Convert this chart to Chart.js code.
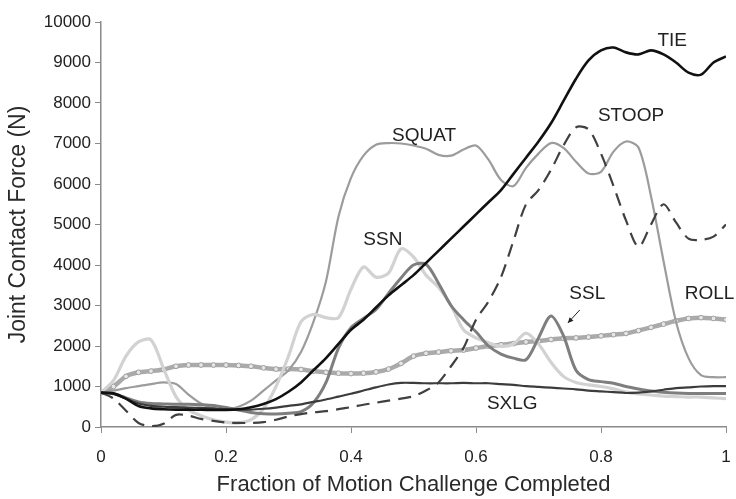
<!DOCTYPE html>
<html>
<head>
<meta charset="utf-8">
<style>
  html, body { margin: 0; padding: 0; background: #fff; }
  #wrap { width: 736px; height: 499px; }
</style>
<script src="https://cdn.jsdelivr.net/npm/chart.js@4.4.1/dist/chart.umd.min.js"></script>
</head>
<body>
<div id="wrap"><canvas id="chart" width="736" height="499"></canvas></div>
<script>
// fraction of motion challenge completed (sample points)
const xs = [0, 0.02, 0.04, 0.06, 0.08, 0.1, 0.12, 0.14, 0.16, 0.18,
  0.2, 0.22, 0.24, 0.26, 0.28, 0.3, 0.32, 0.34, 0.36, 0.38,
  0.4, 0.42, 0.44, 0.46, 0.48, 0.5, 0.52, 0.54, 0.56, 0.58,
  0.6, 0.62, 0.64, 0.66, 0.68, 0.7, 0.72, 0.74, 0.76, 0.78,
  0.8, 0.82, 0.84, 0.86, 0.88, 0.9, 0.92, 0.94, 0.96, 0.98, 1];

// joint contact force (N)
const tie = [850, 830, 700, 520, 460, 440, 430, 430, 425, 420,
  420, 440, 490, 570, 690, 870, 1100, 1400, 1700, 2050,
  2400, 2650, 2950, 3250, 3500, 3750, 4050, 4350, 4650, 4950,
  5250, 5550, 5850, 6250, 6650, 7050, 7500, 8050, 8600, 9050,
  9300, 9370, 9250, 9200, 9300, 9200, 9000, 8750, 8700, 9000, 9150];
const squat = [850, 900, 960, 1010, 1060, 1100, 1060, 800, 580, 460,
  430, 500, 650, 900, 1150, 1400, 1850, 2600, 3600, 5200,
  6150, 6700, 6970, 7010, 7000, 6950, 6870, 6720, 6700, 6850,
  6950, 6600, 6100, 5950, 6400, 6750, 7010, 6890, 6550, 6260,
  6300, 6800, 7050, 6900, 5700, 4100, 2600, 1700, 1280, 1230, 1230];
const stoop = [850, 700, 400, 100, 20, 80, 300, 280, 200, 150,
  110, 100, 100, 120, 180, 260, 320, 360, 390, 440,
  490, 550, 600, 650, 700, 760, 900, 1100, 1500, 1950,
  2650, 3100, 3700, 4600, 5500, 5850, 6350, 6950, 7400, 7350,
  6750, 5950, 5100, 4450, 5000, 5500, 5050, 4650, 4620, 4700, 5000];
const ssn = [850, 1150, 1750, 2100, 2150, 1450, 750, 420, 280, 180,
  120, 100, 180, 450, 1000, 1750, 2600, 2780, 2700, 2700,
  3400, 3950, 3700, 3800, 4400, 4200, 3750, 3450, 3000, 2400,
  2200, 2080, 1990, 2050, 2320, 2050, 1600, 1250, 1100, 1040,
  1000, 940, 860, 820, 790, 760, 750, 740, 740, 720, 700];
const ssl = [850, 820, 720, 620, 580, 570, 560, 560, 550, 530,
  480, 420, 360, 330, 320, 340, 380, 600, 1100, 1950,
  2450, 2680, 2900, 3300, 3680, 4000, 4020, 3550, 3000, 2650,
  2350, 2000, 1800, 1700, 1660, 2200, 2740, 2250, 1400, 1170,
  1120, 1080, 1000, 940, 890, 860, 840, 830, 830, 830, 830];
const roll = [850, 1000, 1250, 1350, 1380, 1420, 1500, 1530, 1530, 1530,
  1530, 1520, 1500, 1460, 1430, 1430, 1420, 1380, 1350, 1330,
  1320, 1330, 1360, 1430, 1570, 1750, 1820, 1850, 1880, 1900,
  1950, 2000, 2030, 2060, 2100, 2120, 2160, 2190, 2200, 2220,
  2250, 2280, 2310, 2380, 2460, 2540, 2620, 2680, 2700, 2680, 2650];
const sxlg = [850, 820, 700, 580, 520, 500, 490, 480, 470, 460,
  440, 430, 430, 450, 480, 520, 560, 620, 680, 750,
  820, 900, 980, 1050, 1090, 1090, 1080, 1080, 1080, 1090,
  1080, 1080, 1060, 1040, 1010, 990, 970, 950, 930, 900,
  880, 860, 840, 850, 880, 920, 960, 980, 1000, 1010, 1010];

// series names as written on the chart, with where each name sits (data units)
const seriesLabels = [
  { text: 'TIE',   x: 0.914, y: 9540, align: 'center' },
  { text: 'STOOP', x: 0.848, y: 7690, align: 'center' },
  { text: 'SQUAT', x: 0.517, y: 7190, align: 'center' },
  { text: 'SSN',   x: 0.451, y: 4620, align: 'center' },
  { text: 'SSL',   x: 0.778, y: 3290, align: 'center' },
  { text: 'ROLL',  x: 0.934, y: 3290, align: 'left' },
  { text: 'SXLG',  x: 0.658, y: 570,  align: 'center' }
];
const sslArrow = { from: [0.766, 2890], to: [0.747, 2570] };

const FONT = '"Liberation Sans", Arial, Helvetica, sans-serif';

const pts = (arr) => xs.map((x, i) => ({ x, y: arr[i] }));

const labelPlugin = {
  id: 'seriesLabels',
  afterDatasetsDraw(chart) {
    const { ctx, scales: { x, y } } = chart;
    ctx.save();
    ctx.fillStyle = '#222';
    ctx.font = '19px ' + FONT;
    ctx.textBaseline = 'middle';
    seriesLabels.forEach((l) => {
      ctx.textAlign = l.align;
      ctx.fillText(l.text, x.getPixelForValue(l.x), y.getPixelForValue(l.y));
    });
    // little arrow pointing at the SSL peak
    const x0 = x.getPixelForValue(sslArrow.from[0]), y0 = y.getPixelForValue(sslArrow.from[1]);
    const x1 = x.getPixelForValue(sslArrow.to[0]),   y1 = y.getPixelForValue(sslArrow.to[1]);
    ctx.strokeStyle = '#222';
    ctx.lineWidth = 1;
    ctx.beginPath();
    ctx.moveTo(x0, y0);
    ctx.lineTo(x1, y1);
    ctx.stroke();
    const ang = Math.atan2(y1 - y0, x1 - x0);
    ctx.beginPath();
    ctx.moveTo(x1, y1);
    ctx.lineTo(x1 - 6 * Math.cos(ang - 0.45), y1 - 6 * Math.sin(ang - 0.45));
    ctx.lineTo(x1 - 6 * Math.cos(ang + 0.45), y1 - 6 * Math.sin(ang + 0.45));
    ctx.closePath();
    ctx.fillStyle = '#222';
    ctx.fill();
    ctx.restore();
  }
};

const line = (label, arr, color, width, extra = {}) => Object.assign({
  label,
  data: pts(arr),
  borderColor: color,
  borderWidth: width,
  pointRadius: 0,
  tension: 0.3,
  fill: false
}, extra);

new Chart(document.getElementById('chart'), {
  type: 'line',
  data: {
    datasets: [
      line('TIE', tie, '#111111', 2.6),
      line('SXLG', sxlg, '#3c3c3c', 2.2),
      line('STOOP', stoop, '#404040', 2.2, { borderDash: [13, 8] }),
      line('SSL', ssl, '#7e7e7e', 3),
      line('SSN', ssn, '#d2d2d2', 3.2),
      line('SQUAT', squat, '#9c9c9c', 2.2),
      line('ROLL', roll, '#aaaaaa', 4.5, {
        pointRadius: 2.4, pointBackgroundColor: '#e6e6e6',
        pointBorderColor: '#a0a0a0', pointBorderWidth: 1
      })
    ]
  },
  options: {
    responsive: false,
    animation: false,
    layout: { padding: { left: 0, right: 10, top: 22, bottom: 0 } },
    plugins: { legend: { display: false }, tooltip: { enabled: false } },
    scales: {
      x: {
        type: 'linear', min: 0, max: 1,
        afterFit: (s) => { s.height = 72; s.paddingLeft = 0; s.paddingRight = 0; },
        ticks: {
          stepSize: 0.2, color: '#222', padding: 14, maxRotation: 0,
          font: { family: FONT, size: 17 },
          callback: (v) => (Math.round(v * 10) / 10).toString()
        },
        grid: { drawOnChartArea: false, drawTicks: true, tickLength: 6, color: '#8a8a8a' },
        border: { color: '#8a8a8a', width: 1.5 },
        title: {
          display: true, text: 'Fraction of Motion Challenge Completed',
          color: '#2a2a2a', font: { family: FONT, size: 22 }, padding: { top: 0, bottom: 1 }
        }
      },
      y: {
        min: 0, max: 10000,
        afterFit: (s) => { s.width = 101; s.paddingTop = 0; s.paddingBottom = 0; },
        ticks: {
          stepSize: 1000, color: '#222', padding: 4,
          font: { family: FONT, size: 17 },
          callback: (v) => String(v)
        },
        grid: { drawOnChartArea: false, drawTicks: true, tickLength: 6, color: '#8a8a8a' },
        border: { color: '#8a8a8a', width: 1.5 },
        title: {
          display: true, text: 'Joint Contact Force (N)',
          color: '#2a2a2a', font: { family: FONT, size: 23 }, padding: { top: 5, bottom: 0 }
        }
      }
    }
  },
  plugins: [labelPlugin]
});
</script>
</body>
</html>
